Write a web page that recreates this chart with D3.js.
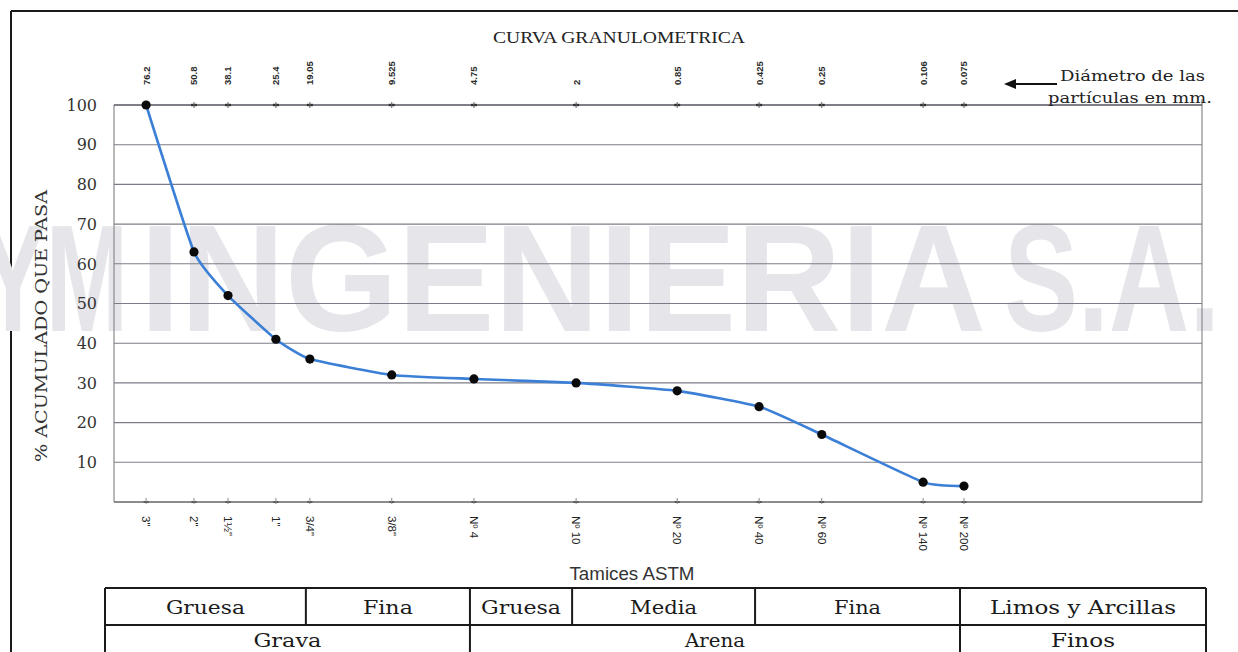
<!DOCTYPE html>
<html>
<head>
<meta charset="utf-8">
<script src="https://cdn.jsdelivr.net/npm/d3@7/dist/d3.min.js"></script>
<style>
  html, body { margin: 0; padding: 0; background: #ffffff; }
  svg { display: block; }
</style>
</head>
<body>
<svg id="chart" width="1238" height="652"></svg>
<script>
// Sieve openings (mm), their ASTM names and the cumulative % passing
const diameters = [76.2, 50.8, 38.1, 25.4, 19.05, 9.525, 4.75, 2, 0.85, 0.425, 0.25, 0.106, 0.075];
const diameterLabels = ["76.2", "50.8", "38.1", "25.4", "19.05", "9.525", "4.75", "2", "0.85", "0.425", "0.25", "0.106", "0.075"];
const sieveNames = ['3"', '2"', '1½"', '1"', '3/4"', '3/8"', "Nº 4", "Nº 10", "Nº 20", "Nº 40", "Nº 60", "Nº 140", "Nº 200"];
const passing = [100, 63, 52, 41, 36, 32, 31, 30, 28, 24, 17, 5, 4];
const yTicks = [10, 20, 30, 40, 50, 60, 70, 80, 90, 100];

// Soil classification bands (limits given as sieve openings in mm)
const subClasses = ["Gruesa", "Fina", "Gruesa", "Media", "Fina", "Limos y Arcillas"];
const subLimits = [null, 19.05, 4.75, 2, 0.425, 0.075, null];
const mainClasses = ["Grava", "Arena", "Finos"];
const mainLimits = [null, 4.75, 0.075, null];

const svg = d3.select("#chart");
const W = 1238, H = 652;

const x = d3.scaleLog().domain([100, 0.01]).range([114, 1202]);
const y = d3.scaleLinear().domain([0, 100]).range([502, 105]);
const plotL = 114, plotR = 1202;

const serif = "'DejaVu Serif', 'Liberation Serif', serif";
const sans = "'Liberation Sans', Arial, sans-serif";

// page frame
svg.append("line").attr("x1", 11).attr("y1", 11).attr("x2", W).attr("y2", 11)
  .attr("stroke", "#1a1a1a").attr("stroke-width", 2);
svg.append("line").attr("x1", 11).attr("y1", 11).attr("x2", 11).attr("y2", H)
  .attr("stroke", "#1a1a1a").attr("stroke-width", 2);

// company watermark
const wm = svg.append("g").attr("fill", "#e5e5ea").attr("font-family", sans)
  .attr("font-weight", "bold").attr("font-size", 152);
wm.append("text").attr("x", -20).attr("y", 331).attr("textLength", 148)
  .attr("lengthAdjust", "spacingAndGlyphs").text("YM");
wm.append("text").attr("x", 140).attr("y", 331).attr("textLength", 846)
  .attr("lengthAdjust", "spacingAndGlyphs").text("INGENIERIA");
wm.append("text").attr("x", 1004).attr("y", 331).attr("textLength", 216)
  .attr("lengthAdjust", "spacingAndGlyphs").text("S.A.");

// plot frame
svg.append("line").attr("x1", plotL).attr("x2", plotL).attr("y1", y(100)).attr("y2", y(0))
  .attr("stroke", "#8a8a8a").attr("stroke-width", 1.2);
svg.append("line").attr("x1", plotR).attr("x2", plotR).attr("y1", y(100) - 6).attr("y2", y(0))
  .attr("stroke", "#8a8a8a").attr("stroke-width", 1.2);

// horizontal gridlines
svg.append("g").selectAll("line").data(yTicks).join("line")
  .attr("x1", plotL).attr("x2", plotR)
  .attr("y1", d => y(d)).attr("y2", d => y(d))
  .attr("stroke", d => d === 100 ? "#555560" : "#7c7c88")
  .attr("stroke-width", d => d === 100 ? 1.4 : 1.1);
svg.append("line").attr("x1", plotL).attr("x2", plotR).attr("y1", y(0)).attr("y2", y(0))
  .attr("stroke", "#666").attr("stroke-width", 1.3);

// y tick labels
svg.append("g").selectAll("text").data(yTicks).join("text")
  .attr("x", 97).attr("y", d => y(d)).attr("dy", "0.36em")
  .attr("text-anchor", "end").attr("font-family", serif).attr("font-size", 16)
  .attr("fill", "#333").text(d => d);

// y axis title
svg.append("text")
  .attr("transform", "translate(47,326) rotate(-90)")
  .attr("text-anchor", "middle").attr("font-family", serif).attr("font-size", 16)
  .attr("textLength", 272).attr("lengthAdjust", "spacingAndGlyphs")
  .attr("fill", "#333").text("% ACUMULADO QUE PASA");

// top axis: particle diameters
const topAxis = svg.append("g");
topAxis.selectAll("rect").data(diameters).join("rect")
  .attr("x", d => x(d) - 3).attr("y", y(100) - 1.2).attr("width", 6).attr("height", 2.4)
  .attr("fill", "#333");
topAxis.selectAll("line").data(diameters).join("line")
  .attr("x1", d => x(d)).attr("x2", d => x(d)).attr("y1", y(100) - 3).attr("y2", y(100) + 3)
  .attr("stroke", "#666").attr("stroke-width", 1);
topAxis.selectAll("text").data(diameterLabels).join("text")
  .attr("transform", (d, i) => `translate(${x(diameters[i])},85) rotate(-90)`)
  .attr("dy", "0.36em").attr("font-family", sans).attr("font-weight", "bold")
  .attr("font-size", 9.5).attr("fill", "#2a2a2a").text(d => d);

// bottom axis: ASTM sieves
const bottomAxis = svg.append("g");
bottomAxis.selectAll("rect").data(diameters).join("rect")
  .attr("x", d => x(d) - 2.5).attr("y", y(0) - 1).attr("width", 5).attr("height", 2)
  .attr("fill", "#555");
bottomAxis.selectAll("line").data(diameters).join("line")
  .attr("x1", d => x(d)).attr("x2", d => x(d)).attr("y1", y(0) - 4).attr("y2", y(0) + 2)
  .attr("stroke", "#888").attr("stroke-width", 1);
bottomAxis.selectAll("text").data(sieveNames).join("text")
  .attr("transform", (d, i) => `translate(${x(diameters[i])},516) rotate(90)`)
  .attr("dy", "0.36em").attr("font-family", sans)
  .attr("font-size", 11.5).attr("fill", "#222").text(d => d);

svg.append("text").attr("x", 632).attr("y", 580).attr("text-anchor", "middle")
  .attr("font-family", sans).attr("font-size", 17.5).attr("fill", "#333")
  .attr("textLength", 125).attr("lengthAdjust", "spacingAndGlyphs")
  .text("Tamices ASTM");

// chart title
svg.append("text").attr("x", 619).attr("y", 43).attr("text-anchor", "middle")
  .attr("font-family", "'Liberation Serif', serif").attr("font-size", 16)
  .attr("textLength", 252).attr("lengthAdjust", "spacingAndGlyphs")
  .attr("fill", "#222").text("CURVA GRANULOMETRICA");

// note pointing at the top axis
svg.append("line").attr("x1", 1014).attr("x2", 1057).attr("y1", 84).attr("y2", 84)
  .attr("stroke", "#111").attr("stroke-width", 2);
svg.append("path").attr("d", "M1004,84 L1016,79 L1016,89 Z").attr("fill", "#111");
svg.append("text").attr("x", 1060).attr("y", 81).attr("font-family", serif)
  .attr("font-size", 15).attr("textLength", 145).attr("lengthAdjust", "spacingAndGlyphs")
  .attr("fill", "#222").text("Diámetro de las");
svg.append("text").attr("x", 1048).attr("y", 103).attr("font-family", serif)
  .attr("font-size", 15).attr("textLength", 164).attr("lengthAdjust", "spacingAndGlyphs")
  .attr("fill", "#222").text("partículas en mm.");

// grading curve
const pts = diameters.map((d, i) => [x(d), y(passing[i])]);
svg.append("path").datum(pts)
  .attr("d", d3.line().curve(d3.curveCardinal.tension(0.55)))
  .attr("fill", "none").attr("stroke", "#3b7fd6").attr("stroke-width", 2.6);
svg.append("g").selectAll("circle").data(pts).join("circle")
  .attr("cx", d => d[0]).attr("cy", d => d[1]).attr("r", 4.6).attr("fill", "#0a0a0a");

// classification table
const tL = 105, tR = 1206, r1 = 588, r2 = 625, r3 = 662;
const edge = (v, i) => v === null ? (i === 0 ? tL : tR) : x(v) - 4;
const tbl = svg.append("g").attr("stroke", "#1a1a1a").attr("stroke-width", 2);
tbl.append("line").attr("x1", tL).attr("x2", tR).attr("y1", r1).attr("y2", r1);
tbl.append("line").attr("x1", tL).attr("x2", tR).attr("y1", r2).attr("y2", r2);
tbl.append("line").attr("x1", tL).attr("x2", tL).attr("y1", r1).attr("y2", r3);
tbl.append("line").attr("x1", tR).attr("x2", tR).attr("y1", r1).attr("y2", r3);
const subX = subLimits.map(edge);
const mainX = mainLimits.map(edge);
tbl.selectAll(".sd").data(subX.slice(1, -1)).join("line").attr("class", "sd")
  .attr("x1", d => d).attr("x2", d => d).attr("y1", r1).attr("y2", r2);
tbl.selectAll(".md").data(mainX.slice(1, -1)).join("line").attr("class", "md")
  .attr("x1", d => d).attr("x2", d => d).attr("y1", r2).attr("y2", r3);

const subW = [79, 50, 80, 67, 47, 186];
svg.append("g").selectAll("text").data(subClasses).join("text")
  .attr("x", (d, i) => (subX[i] + subX[i + 1]) / 2).attr("y", 614)
  .attr("text-anchor", "middle").attr("font-family", serif).attr("font-size", 19)
  .attr("textLength", (d, i) => subW[i]).attr("lengthAdjust", "spacingAndGlyphs")
  .attr("fill", "#1a1a1a").text(d => d);
const mainW = [68, 60, 64];
svg.append("g").selectAll("text").data(mainClasses).join("text")
  .attr("x", (d, i) => (mainX[i] + mainX[i + 1]) / 2).attr("y", 647)
  .attr("text-anchor", "middle").attr("font-family", serif).attr("font-size", 18)
  .attr("textLength", (d, i) => mainW[i]).attr("lengthAdjust", "spacingAndGlyphs")
  .attr("fill", "#1a1a1a").text(d => d);
</script>
</body>
</html>
